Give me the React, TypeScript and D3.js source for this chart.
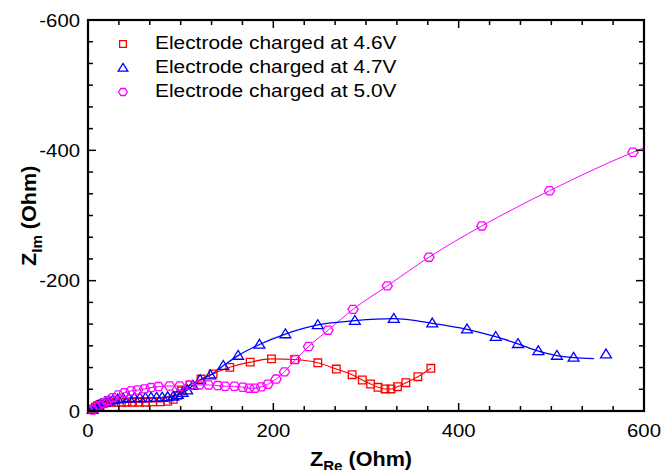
import React from "react";
import * as d3 from "d3";

// Electrode charged at 4.6V
const redRe = [6, 8, 10, 13, 16, 20, 25, 30, 36, 42, 48, 55, 62, 70, 78, 86, 92, 97, 101, 110, 122, 135, 153, 175, 198, 223, 248, 268, 285, 296, 305, 313, 320.5, 327, 334, 343, 356, 370];
const redIm = [-3, -6, -8, -10, -11.5, -12.5, -13, -13.5, -13.5, -13.5, -13.5, -13.5, -13.5, -14, -14, -15, -18, -24, -31, -40, -49, -57, -67, -75, -80, -79, -74, -64.4, -55.7, -47.6, -41.4, -36.4, -33.8, -33.8, -37.3, -43.4, -52.6, -65.5];

// Electrode charged at 4.7V
const blueRe = [5, 8, 11, 14, 18, 22, 27, 32, 38, 44, 50, 56, 62, 68, 74, 80, 86, 92, 97, 102, 107, 113, 121, 132, 146, 162, 185, 213, 248, 288, 330, 371.5, 409, 440, 464, 486, 506, 524, 559];
const blueIm = [-2, -5, -8, -11, -13.5, -15.5, -17, -18, -19, -19.5, -20, -20, -20, -20.5, -20.5, -21, -21.5, -22.5, -25, -28, -32, -39, -47.6, -55, -69.5, -85, -102, -118, -132, -138.6, -141.6, -134.6, -125.4, -114, -103, -92, -85, -82, -87];
// fitted curve end for 4.7V
const blueFitEndRe = 546;
const blueFitEndIm = -80.5;

// Electrode charged at 5.0V
const magRe = [5, 8.6, 12.2, 16.5, 21.3, 26.7, 32.7, 39.2, 46.4, 53.6, 61, 68, 76, 88, 99, 110, 120, 130, 140, 148, 158, 167, 174, 180, 187, 194, 203, 212, 224, 238, 259, 286, 323, 368, 425, 498, 588];
const magIm = [-1.5, -5.7, -8.1, -11.8, -15.8, -20.4, -24.5, -28.1, -30.7, -32.2, -34, -36, -37.5, -38.4, -38.4, -39.5, -40, -40, -39, -38, -38, -36.5, -35, -35, -37, -41, -49, -60, -79, -99, -124, -156, -192, -236, -284, -338, -397];
const magFitEndRe = 600;
const magFitEndIm = -404;

const xTicks = [0, 200, 400, 600];
const yTicks = [0, -200, -400, -600];
const legendLabels = ["Electrode charged at 4.6V", "Electrode charged at 4.7V", "Electrode charged at 5.0V"];

const W = 664, H = 470;
const L = 88, R = 644, T = 20, B = 411;
const FONT = "Arial, 'Liberation Sans', Helvetica, sans-serif";

const x = d3.scaleLinear().domain([0, 600]).range([L, R]);
const y = d3.scaleLinear().domain([0, -600]).range([B, T]);

function zip(a: number[], b: number[]): [number, number][] {
  return a.map((v, i) => [v, b[i]]);
}

const square = (cx: number, cy: number, s = 3.8) =>
  `M${cx - s},${cy - s}H${cx + s}V${cy + s}H${cx - s}Z`;
const tri = (cx: number, cy: number, s = 5.2) =>
  `M${cx},${cy - s}L${cx + s * 1.05},${cy + s * 0.7}L${cx - s * 1.05},${cy + s * 0.7}Z`;
const hex = (cx: number, cy: number, r = 5.1) => {
  const pts = d3.range(6).map((i) => {
    const a = (Math.PI / 3) * i;
    return `${cx + r * Math.cos(a)},${cy + r * 0.92 * Math.sin(a)}`;
  });
  return `M${pts.join("L")}Z`;
};

export default function App() {
  const red = zip(redRe, redIm);
  const blue = zip(blueRe, blueIm);
  const mag = zip(magRe, magIm);
  const blueFit: [number, number][] = [...blue.slice(0, -1), [blueFitEndRe, blueFitEndIm]];
  const magFit: [number, number][] = [...mag, [magFitEndRe, magFitEndIm]];

  const line = d3
    .line<[number, number]>()
    .x((d) => x(d[0]))
    .y((d) => y(d[1]))
    .curve(d3.curveMonotoneX);

  const minorX = d3.range(0, 600.001, 200 / 6);
  const minorY = d3.range(0, -600.001, -200 / 6);

  const sx = 1.13;
  const txt = (
    key: string,
    tx: number,
    ty: number,
    s: string,
    anchor: "start" | "middle" | "end",
    size = 18
  ) => (
    <text
      key={key}
      transform={`translate(${tx},${ty}) scale(${sx},1)`}
      textAnchor={anchor}
      fontFamily={FONT}
      fontSize={size}
      fill="#000"
    >
      {s}
    </text>
  );

  return (
    <div style={{ position: "fixed", left: 0, top: 0 }}>
      <svg width={W} height={H} viewBox={`0 0 ${W} ${H}`} style={{ display: "block", background: "#fff" }}>
        <rect x={0} y={0} width={W} height={H} fill="#fff" />
        <defs>
          <clipPath id="plotclip">
            <rect x={L} y={T} width={R - L} height={B - T} />
          </clipPath>
        </defs>

        {/* lines */}
        <g clipPath="url(#plotclip)" fill="none">
          <path d={line(magFit) || ""} stroke="#ff00ff" strokeWidth={1} />
          <path d={line(red) || ""} stroke="#ff0000" strokeWidth={1.1} />
          <path d={line(blueFit) || ""} stroke="#0000ff" strokeWidth={1.3} />
        </g>

        {/* markers */}
        <g fill="none" strokeWidth={1.3}>
          {red.map((d, i) => (
            <path key={"r" + i} d={square(x(d[0]), y(d[1]))} stroke="#ff0000" />
          ))}
          {blue.map((d, i) => (
            <path key={"b" + i} d={tri(x(d[0]), y(d[1]))} stroke="#0000ff" />
          ))}
          {mag.map((d, i) => (
            <path key={"m" + i} d={hex(x(d[0]), y(d[1]))} stroke="#ff00ff" />
          ))}
        </g>

        {/* ticks */}
        <g stroke="#000" strokeWidth={1.5}>
          {minorX.map((v, i) => {
            const major = xTicks.some((t) => Math.abs(t - v) < 1e-6);
            const len = major ? 8 : 5;
            return (
              <g key={"tx" + i}>
                <line x1={x(v)} x2={x(v)} y1={B} y2={B - len} />
                <line x1={x(v)} x2={x(v)} y1={T} y2={T + len} />
              </g>
            );
          })}
          {minorY.map((v, i) => {
            const major = yTicks.some((t) => Math.abs(t - v) < 1e-6);
            const len = major ? 8 : 5;
            return (
              <g key={"ty" + i}>
                <line x1={L} x2={L + len} y1={y(v)} y2={y(v)} />
                <line x1={R} x2={R - len} y1={y(v)} y2={y(v)} />
              </g>
            );
          })}
        </g>
        <rect x={L} y={T} width={R - L} height={B - T} fill="none" stroke="#000" strokeWidth={2.2} />

        {/* tick labels */}
        {xTicks.map((v) => txt("xl" + v, x(v), 437, String(v), "middle"))}
        {yTicks.map((v) => txt("yl" + v, 80, y(v) + 6.5, String(v), "end"))}

        {/* legend */}
        <g fill="none" strokeWidth={1.3}>
          <path d={square(123, 44, 3.4)} stroke="#ff0000" />
          <path d={tri(123, 68, 4.6)} stroke="#0000ff" />
          <path d={hex(123, 92, 4.4)} stroke="#ff00ff" />
        </g>
        {legendLabels.map((s, i) => txt("lg" + i, 155, 48.5 + i * 24, s, "start", 18.5))}

        {/* axis titles */}
        <text
          transform={`translate(${310},${466}) scale(1.08,1)`}
          fontFamily={FONT}
          fontSize={20}
          fontWeight="bold"
          fill="#000"
        >
          Z
          <tspan fontSize={14} dy={5}>Re</tspan>
          <tspan dy={-5}> (Ohm)</tspan>
        </text>
        <text
          transform={`translate(${36},${266}) rotate(-90) scale(1.08,1)`}
          fontFamily={FONT}
          fontSize={20}
          fontWeight="bold"
          fill="#000"
        >
          Z
          <tspan fontSize={14} dy={6}>Im</tspan>
          <tspan dy={-6}> (Ohm)</tspan>
        </text>
      </svg>
    </div>
  );
}
